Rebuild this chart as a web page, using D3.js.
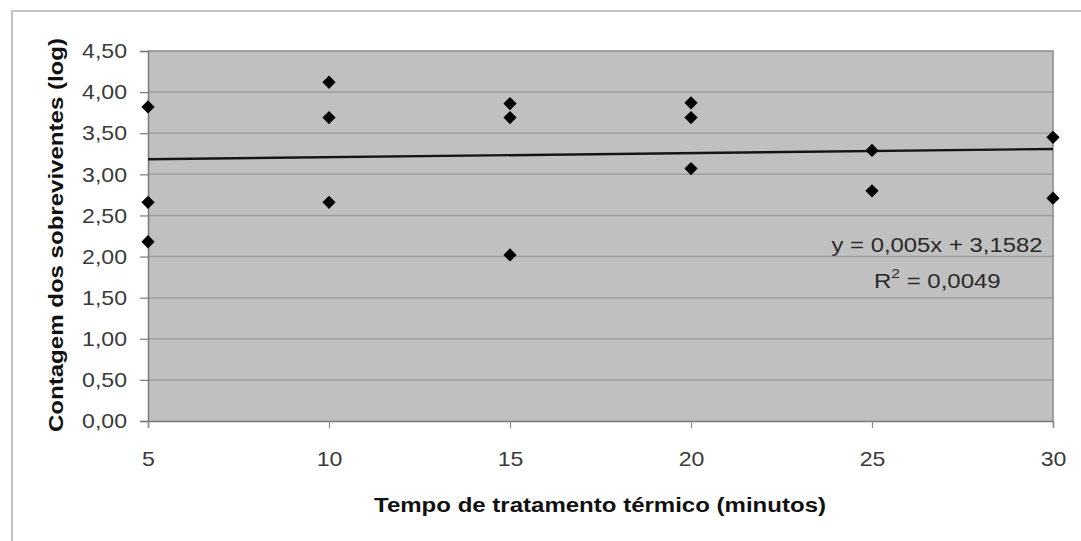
<!DOCTYPE html>
<html>
<head>
<meta charset="utf-8">
<script src="https://cdn.jsdelivr.net/npm/d3@7"></script>
<style>
  html, body { margin: 0; padding: 0; background: #fff; }
  svg { display: block; }
  text { font-family: "Liberation Sans", Arial, sans-serif; }
</style>
</head>
<body>
<svg id="chart" width="1081" height="541"></svg>
<script>
// Survivor counts (log) per heat-treatment time (minutes)
const times  = [5, 5, 5, 10, 10, 10, 15, 15, 15, 20, 20, 20, 25, 25, 30, 30];
const counts = [3.82, 2.66, 2.18, 4.12, 3.69, 2.66, 3.86, 3.69, 2.02, 3.87, 3.69, 3.07, 3.29, 2.80, 3.45, 2.71];

// Linear trend reported for the series
const trendSlope = 0.005;
const trendIntercept = 3.1582;
const trendLabels = ["y = 0,005x + 3,1582", "R", "2", " = 0,0049"];

const xTicks = [5, 10, 15, 20, 25, 30];
const yTicks = [0, 0.5, 1, 1.5, 2, 2.5, 3, 3.5, 4, 4.5];

const xTitle = "Tempo de tratamento térmico (minutos)";
const yTitle = "Contagem dos sobreviventes (log)";

const svg = d3.select("#chart");
const W = 1081, H = 541;
const plot = { left: 148, right: 1053, top: 51, bottom: 421 };

const x = d3.scaleLinear().domain([5, 30]).range([plot.left, plot.right]);
const y = d3.scaleLinear().domain([0, 4.5]).range([plot.bottom, plot.top]);

const commaFmt = d => d3.format(".2f")(d).replace(".", ",");

// Widen tick labels slightly
function widen(sel, k) {
  sel.each(function () {
    const w = this.getComputedTextLength();
    d3.select(this).attr("textLength", w * k).attr("lengthAdjust", "spacingAndGlyphs");
  });
}

// Outer chart frame
svg.append("rect")
  .attr("x", 12).attr("y", 11)
  .attr("width", W + 10).attr("height", H + 10)
  .attr("fill", "#fff")
  .attr("stroke", "#c4c4c4").attr("stroke-width", 2);

// Plot area background
svg.append("rect")
  .attr("x", plot.left).attr("y", plot.top)
  .attr("width", plot.right - plot.left).attr("height", plot.bottom - plot.top)
  .attr("fill", "#c0c0c0");

// Horizontal gridlines
svg.append("g")
  .selectAll("line")
  .data(yTicks.filter(v => v > 0 && v < 4.5))
  .join("line")
  .attr("x1", plot.left).attr("x2", plot.right)
  .attr("y1", d => y(d)).attr("y2", d => y(d))
  .attr("stroke", "#9e9e9e").attr("stroke-width", 1.5);

// Top and right plot borders
svg.append("path")
  .attr("d", `M${plot.left},${y(4.5)}H${x(30)}V${plot.bottom}`)
  .attr("fill", "none").attr("stroke", "#8a8a8a").attr("stroke-width", 1.5);

// Y axis
const yAxis = svg.append("g")
  .attr("transform", `translate(${plot.left},0)`)
  .call(d3.axisLeft(y).tickValues(yTicks).tickFormat(commaFmt).tickSize(8).tickPadding(13));
yAxis.select(".domain").attr("stroke", "#7a7a7a").attr("stroke-width", 1.5);
yAxis.selectAll(".tick line").attr("stroke", "#7a7a7a").attr("stroke-width", 1.2);
yAxis.selectAll(".tick text")
  .attr("font-size", 21).attr("fill", "#3a3a3a")
  .attr("font-family", "Liberation Sans, Arial, sans-serif")
  .call(widen, 1.1);

// X axis
const xAxis = svg.append("g")
  .attr("transform", `translate(0,${plot.bottom})`)
  .call(d3.axisBottom(x).tickValues(xTicks).tickFormat(d3.format("d")).tickSize(7).tickPadding(23));
xAxis.select(".domain").attr("stroke", "#7a7a7a").attr("stroke-width", 1.5);
xAxis.selectAll(".tick line").attr("stroke", "#8a8a8a").attr("stroke-width", 1.2);
xAxis.selectAll(".tick text")
  .attr("font-size", 21).attr("fill", "#3a3a3a")
  .attr("font-family", "Liberation Sans, Arial, sans-serif")
  .call(widen, 1.1);

// Trend line
svg.append("line")
  .attr("x1", x(5)).attr("y1", y(trendSlope * 5 + trendIntercept))
  .attr("x2", x(30)).attr("y2", y(trendSlope * 30 + trendIntercept))
  .attr("stroke", "#151515").attr("stroke-width", 2.4);

// Data points (diamonds)
const diamond = d3.symbol().type(d3.symbolSquare).size(88);
svg.append("g")
  .selectAll("path")
  .data(times.map((t, i) => ({ t, v: counts[i] })))
  .join("path")
  .attr("d", diamond)
  .attr("transform", d => `translate(${x(d.t)},${y(d.v)}) rotate(45)`)
  .attr("fill", "#000");

// Trend equation
svg.append("text")
  .attr("x", 937).attr("y", 252)
  .attr("text-anchor", "middle")
  .attr("font-size", 20).attr("fill", "#2a2a2a")
  .attr("textLength", 211).attr("lengthAdjust", "spacingAndGlyphs")
  .text(trendLabels[0]);

const r2 = svg.append("g")
  .attr("transform", "translate(874,288) scale(1.2,1)")
  .append("text")
  .attr("font-size", 20).attr("fill", "#2a2a2a");
r2.append("tspan").text(trendLabels[1]);
r2.append("tspan").attr("dy", -10).attr("font-size", 13).text(trendLabels[2]);
r2.append("tspan").attr("dy", 10).text(trendLabels[3]);

// Axis titles
svg.append("text")
  .attr("x", 600).attr("y", 512)
  .attr("text-anchor", "middle")
  .attr("font-size", 21).attr("font-weight", "bold").attr("fill", "#111")
  .attr("textLength", 452).attr("lengthAdjust", "spacingAndGlyphs")
  .text(xTitle);

svg.append("text")
  .attr("transform", "translate(63,235) rotate(-90)")
  .attr("text-anchor", "middle")
  .attr("font-size", 21).attr("font-weight", "bold").attr("fill", "#111")
  .attr("textLength", 394).attr("lengthAdjust", "spacingAndGlyphs")
  .text(yTitle);
</script>
</body>
</html>
